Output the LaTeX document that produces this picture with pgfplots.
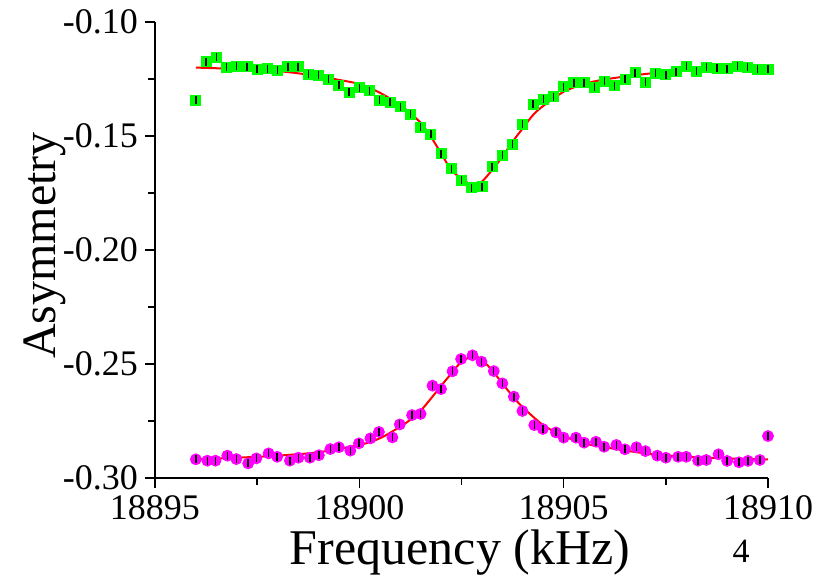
\documentclass[border=0pt]{standalone}
\usepackage{fontspec}
\setmainfont{Liberation Serif}
\usepackage{pgfplots}
\pgfplotsset{compat=1.18}
\usepackage{pgfplotstable}
\usetikzlibrary{calc}
\definecolor{sqgreen}{HTML}{00FF00}
\definecolor{dotmag}{HTML}{FF00FF}

\pgfplotstableread{
x y
18896.00 -0.1342
18896.25 -0.1174
18896.50 -0.1155
18896.75 -0.1199
18897.00 -0.1193
18897.25 -0.1196
18897.50 -0.1206
18897.75 -0.1205
18898.00 -0.1212
18898.25 -0.1196
18898.50 -0.1196
18898.75 -0.1229
18899.00 -0.1234
18899.25 -0.1252
18899.50 -0.1278
18899.75 -0.1307
18900.00 -0.1289
18900.25 -0.1301
18900.50 -0.1342
18900.75 -0.1352
18901.00 -0.1371
18901.25 -0.1404
18901.50 -0.1462
18901.75 -0.1493
18902.00 -0.1578
18902.25 -0.1643
18902.50 -0.1693
18902.75 -0.1727
18903.00 -0.1722
18903.25 -0.1635
18903.50 -0.1583
18903.75 -0.1537
18904.00 -0.1447
18904.25 -0.1360
18904.50 -0.1339
18904.75 -0.1327
18905.00 -0.1284
18905.25 -0.1266
18905.50 -0.1266
18905.75 -0.1287
18906.00 -0.1259
18906.25 -0.1279
18906.50 -0.1252
18906.75 -0.1222
18907.00 -0.1263
18907.25 -0.1225
18907.50 -0.1231
18907.75 -0.1218
18908.00 -0.1193
18908.25 -0.1215
18908.50 -0.1199
18908.75 -0.1202
18909.00 -0.1205
18909.25 -0.1193
18909.50 -0.1199
18909.75 -0.1208
18910.00 -0.1206
}\greendata

\pgfplotstableread{
x y
18896.00 -0.2918
18896.28 -0.2924
18896.48 -0.2924
18896.77 -0.2902
18896.99 -0.2917
18897.28 -0.2936
18897.48 -0.2914
18897.78 -0.2892
18897.99 -0.2907
18898.30 -0.2924
18898.51 -0.2911
18898.79 -0.2911
18899.01 -0.2900
18899.29 -0.2873
18899.50 -0.2865
18899.78 -0.2880
18899.99 -0.2848
18900.27 -0.2826
18900.48 -0.2798
18900.81 -0.2822
18900.99 -0.2765
18901.29 -0.2724
18901.50 -0.2719
18901.79 -0.2595
18902.00 -0.2610
18902.28 -0.2532
18902.49 -0.2478
18902.77 -0.2462
18902.99 -0.2490
18903.29 -0.2531
18903.50 -0.2585
18903.78 -0.2643
18903.99 -0.2706
18904.28 -0.2768
18904.49 -0.2785
18904.81 -0.2800
18905.00 -0.2823
18905.30 -0.2823
18905.50 -0.2845
18905.79 -0.2841
18905.99 -0.2863
18906.29 -0.2855
18906.50 -0.2874
18906.78 -0.2865
18907.00 -0.2882
18907.29 -0.2902
18907.50 -0.2911
18907.80 -0.2907
18908.00 -0.2907
18908.29 -0.2924
18908.49 -0.2921
18908.79 -0.2896
18909.00 -0.2925
18909.29 -0.2931
18909.51 -0.2925
18909.80 -0.2921
18910.00 -0.2816
}\magdata

% fitted curves
\pgfplotstableread{
x y
18896.0 -0.1200
18897.0 -0.1206
18898.0 -0.1215
18899.0 -0.1237
18899.5 -0.1254
18900.0 -0.1272
18900.5 -0.1310
18901.0 -0.1364
18901.25 -0.1401
18901.5 -0.1442
18901.75 -0.1503
18902.0 -0.1576
18902.25 -0.1649
18902.5 -0.1686
18902.8 -0.1719
18903.0 -0.1700
18903.25 -0.1649
18903.5 -0.1591
18903.75 -0.1525
18904.0 -0.1466
18904.25 -0.1408
18904.5 -0.1368
18905.0 -0.1306
18905.5 -0.1272
18906.0 -0.1252
18907.0 -0.1228
18908.0 -0.1212
18909.0 -0.1203
18910.0 -0.1196
}\greenfit

\pgfplotstableread{
x y
18896.0 -0.2917
18897.0 -0.2911
18898.0 -0.2902
18899.0 -0.2887
18900.0 -0.2855
18900.5 -0.2826
18901.0 -0.2775
18901.25 -0.2744
18901.5 -0.2705
18901.75 -0.2652
18902.0 -0.2596
18902.25 -0.2542
18902.5 -0.2490
18902.8 -0.2465
18903.0 -0.2482
18903.25 -0.2528
18903.5 -0.2585
18903.75 -0.2641
18904.0 -0.2690
18904.5 -0.2768
18905.0 -0.2816
18905.5 -0.2848
18906.0 -0.2865
18907.0 -0.2892
18908.0 -0.2907
18909.0 -0.2914
18910.0 -0.2918
}\magfit

\begin{document}
\begin{tikzpicture}
\begin{axis}[
  name=ax,
  scale only axis,
  width=306.5pt,
  height=228pt,
  xmin=18895, xmax=18910,
  ymin=-0.30, ymax=-0.10,
  axis lines=left,
  axis line style={-, black, line width=0.9pt},
  clip=false,
  xtick={18895,18900,18905,18910},
  ytick={-0.30,-0.25,-0.20,-0.15,-0.10},
  minor x tick num=1,
  minor y tick num=1,
  tick align=outside,
  major tick length=5pt,
  minor tick length=3.5pt,
  tick style={black, line width=0.8pt},
  scaled x ticks=false,
  scaled y ticks=false,
  /pgf/number format/assume math mode=true,
  tick label style={font=\fontsize{18}{20}\selectfont},
  xticklabel style={/pgf/number format/.cd, fixed, precision=0, 1000 sep={}},
  yticklabel style={/pgf/number format/.cd, fixed, fixed zerofill, precision=2},
  xlabel={Frequency (kHz)},
  xlabel style={font=\fontsize{25}{29}\selectfont, at={(axis description cs:0.4976,-0.164)}, anchor=center},
  ylabel={Asymmetry},
  ylabel style={font=\fontsize{24}{28}\selectfont, at={(axis description cs:-0.179,0.51)}, anchor=center},
]
  \addplot[only marks, mark=square*, mark size=2.5pt, color=sqgreen] table {\greendata};
  \addplot[only marks, mark=*, mark size=2.75pt, color=dotmag] table {\magdata};
  % small black error ticks over the markers
  \addplot[only marks, mark=|, mark size=2pt, forget plot,
    mark options={draw=black, line width=0.7pt}] table {\greendata};
  \addplot[only marks, mark=|, mark size=2pt, forget plot,
    mark options={draw=black, line width=0.7pt}] table {\magdata};
  \addplot[red, line width=1pt, smooth, no marks] table {\greenfit};
  \addplot[red, line width=1pt, smooth, no marks] table {\magfit};
  \node[font=\fontsize{17}{20}\selectfont] at (axis description cs:0.956,-0.160) {4};
\end{axis}
\pgfresetboundingbox
\path[use as bounding box] ($(ax.south west)+(-77.5pt,-50.5pt)$) rectangle ($(ax.south west)+(332pt,239pt)$);
\end{tikzpicture}
\end{document}
